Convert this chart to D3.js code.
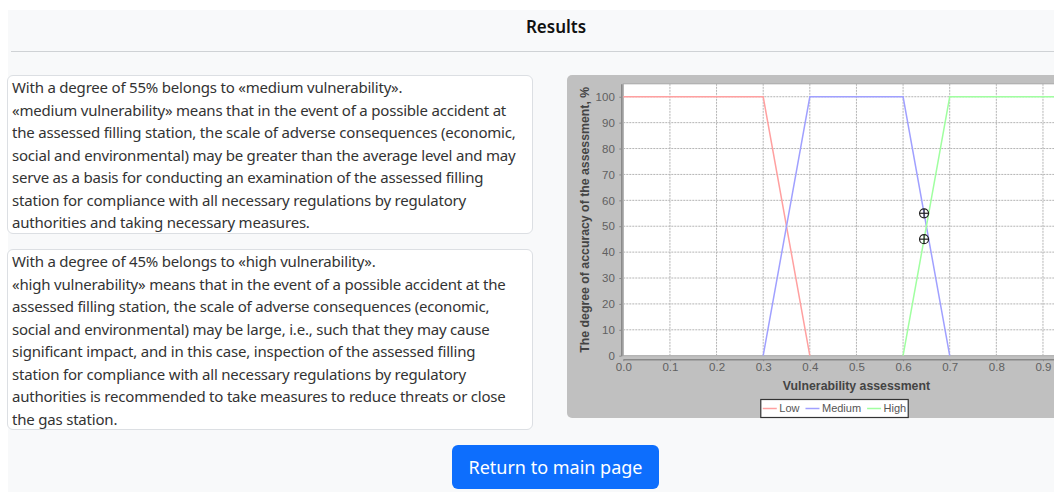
<!DOCTYPE html>
<html>
<head>
<meta charset="utf-8">
<script src="https://cdn.jsdelivr.net/npm/d3@7"></script>
<style>
  html, body { margin: 0; padding: 0; }
  body { width: 1054px; height: 492px; overflow: hidden; background: #fff; position: relative;
         font-family: "Noto Sans", sans-serif; color: #212529; }
  #page { position: absolute; left: 8px; top: 10px; right: 0; bottom: 0; background: #f8f9fa; }
  #title { position: absolute; left: 0; top: 10px; width: 1112px; text-align: center;
           font-size: 17px; font-weight: 600; line-height: 34px; color: #111; }
  #rule { position: absolute; left: 11px; top: 51px; width: 1043px; height: 0; border-top: 1.5px solid #cfd2d5; }
  .box { position: absolute; left: 7px; width: 520px; background: #fff; border: 1px solid #dcdfe3;
         border-radius: 6px; padding: 0 0 0 4px; font-size: 15px; letter-spacing: -0.2px;
         line-height: 22.5px; white-space: nowrap; color: #333; }
  #box1 { top: 75px; height: 157px; }
  #box2 { top: 249px; height: 179px; }
  #btn { position: absolute; left: 452px; top: 445px; width: 207px; height: 44px; background: #0d6efd;
         border-radius: 6px; color: #fff; font-size: 18px; line-height: 44px; text-align: center; }
  #chart { position: absolute; left: 0; top: 0; }
</style>
</head>
<body>
<div id="page"></div>
<div id="title">Results</div>
<div id="rule"></div>
<div class="box" id="box1"></div>
<div class="box" id="box2"></div>
<div id="btn">Return to main page</div>
<svg id="chart" width="1054" height="492"></svg>
<script>
// membership functions (x = vulnerability assessment, y = degree, %)
var lowX = [0, 0.3, 0.4],
    lowY = [100, 100, 0];
var mediumX = [0.3, 0.4, 0.6, 0.7],
    mediumY = [0, 100, 100, 0];
var highX = [0.6, 0.7, 1.0],
    highY = [0, 100, 100];
// assessed point
var pointX = [0.645, 0.645],
    pointY = [55, 45];

var seriesNames = ["Low", "Medium", "High"];
var seriesColors = ["#ffa0a0", "#a0a0ff", "#a0ffa0"];
var xTicks = [0, 0.1, 0.2, 0.3, 0.4, 0.5, 0.6, 0.7, 0.8, 0.9, 1.0];
var yTicks = [0, 10, 20, 30, 40, 50, 60, 70, 80, 90, 100];

var box1Lines = [
  "With a degree of 55% belongs to «medium vulnerability».",
  "«medium vulnerability» means that in the event of a possible accident at",
  "the assessed filling station, the scale of adverse consequences (economic,",
  "social and environmental) may be greater than the average level and may",
  "serve as a basis for conducting an examination of the assessed filling",
  "station for compliance with all necessary regulations by regulatory",
  "authorities and taking necessary measures."
];
var box2Lines = [
  "With a degree of 45% belongs to «high vulnerability».",
  "«high vulnerability» means that in the event of a possible accident at the",
  "assessed filling station, the scale of adverse consequences (economic,",
  "social and environmental) may be large, i.e., such that they may cause",
  "significant impact, and in this case, inspection of the assessed filling",
  "station for compliance with all necessary regulations by regulatory",
  "authorities is recommended to take measures to reduce threats or close",
  "the gas station."
];

d3.select("#box1").selectAll("div").data(box1Lines).enter().append("div").text(function(d) { return d; });
d3.select("#box2").selectAll("div").data(box2Lines).enter().append("div").text(function(d) { return d; });

var svg = d3.select("#chart");

var panel = { x: 567, y: 75, w: 535, h: 343 };
var plot = { left: 623.3, right: 1089.6, top: 83.8, bottom: 355.7 };

var x = d3.scaleLinear().domain([0, 1.0]).range([plot.left, plot.right]);
var y = d3.scaleLinear().domain([0, 105]).range([plot.bottom, plot.top]);

svg.append("rect")
  .attr("x", panel.x).attr("y", panel.y)
  .attr("width", panel.w).attr("height", panel.h)
  .attr("rx", 5)
  .attr("fill", "#c0c0c0");

svg.append("rect")
  .attr("x", plot.left).attr("y", plot.top)
  .attr("width", plot.right - plot.left).attr("height", plot.bottom - plot.top)
  .attr("fill", "#fff")
  .attr("stroke", "#a8a8a8");

// grid
svg.selectAll(".vgrid")
  .data(xTicks.slice(1))
  .enter().append("line")
  .attr("class", "vgrid")
  .attr("x1", function(d) { return x(d); }).attr("x2", function(d) { return x(d); })
  .attr("y1", plot.top).attr("y2", plot.bottom)
  .attr("stroke", "#b4b4b4").attr("stroke-dasharray", "2,1");

svg.selectAll(".hgrid")
  .data(yTicks.slice(1))
  .enter().append("line")
  .attr("class", "hgrid")
  .attr("x1", plot.left).attr("x2", plot.right)
  .attr("y1", function(d) { return y(d); }).attr("y2", function(d) { return y(d); })
  .attr("stroke", "#b4b4b4").attr("stroke-dasharray", "2,1");

// axes
var xAxis = svg.append("g")
  .attr("transform", "translate(0," + (plot.bottom + 3.5) + ")")
  .call(d3.axisBottom(x).tickValues(xTicks).tickFormat(d3.format(".1f")).tickSize(2).tickSizeOuter(0).tickPadding(2));

var yAxis = svg.append("g")
  .attr("transform", "translate(" + (plot.left - 2) + ",0)")
  .call(d3.axisLeft(y).tickValues(yTicks).tickSize(2).tickSizeOuter(0).tickPadding(4.5));

[xAxis, yAxis].forEach(function(a) {
  a.select(".domain").attr("stroke", "#888").attr("stroke-width", 1.5);
  a.selectAll(".tick line").attr("stroke", "#888");
  a.selectAll(".tick text")
    .attr("fill", "#606060")
    .style("font-family", "'Liberation Sans', Arial, sans-serif")
    .style("font-size", "11.5px");
});

svg.append("text")
  .attr("x", (plot.left + plot.right) / 2)
  .attr("y", 389.5)
  .attr("text-anchor", "middle")
  .attr("fill", "#444")
  .style("font-family", "'Liberation Sans', Arial, sans-serif")
  .style("font-size", "12.3px").style("font-weight", "bold")
  .text("Vulnerability assessment");

svg.append("text")
  .attr("transform", "translate(589," + ((plot.top + plot.bottom) / 2) + ")rotate(-90)")
  .attr("text-anchor", "middle")
  .attr("fill", "#444")
  .style("font-family", "'Liberation Sans', Arial, sans-serif")
  .style("font-size", "12.3px").style("font-weight", "bold")
  .text("The degree of accuracy of the assessment, %");

// series
var line = d3.line()
  .x(function(d) { return x(d[0]); })
  .y(function(d) { return y(d[1]); });

var series = [d3.zip(lowX, lowY), d3.zip(mediumX, mediumY), d3.zip(highX, highY)];

svg.selectAll(".series")
  .data(series)
  .enter().append("path")
  .attr("class", "series")
  .attr("d", line)
  .attr("fill", "none")
  .attr("stroke", function(d, i) { return seriesColors[i]; })
  .attr("stroke-width", 1.5);

// markers
var markers = svg.selectAll(".marker")
  .data(d3.zip(pointX, pointY))
  .enter().append("g")
  .attr("class", "marker")
  .attr("transform", function(d) { return "translate(" + x(d[0]) + "," + y(d[1]) + ")"; });
markers.append("circle").attr("r", 4.5).attr("fill", "none").attr("stroke", "#222").attr("stroke-width", 1.2);
markers.append("line").attr("x1", -4.5).attr("x2", 4.5).attr("stroke", "#222").attr("stroke-width", 1.2);
markers.append("line").attr("y1", -4.5).attr("y2", 4.5).attr("stroke", "#222").attr("stroke-width", 1.2);

// legend
var legend = svg.append("g");
var legendBox = legend.append("rect")
  .attr("fill", "#fff").attr("stroke", "#333").attr("stroke-width", 1.2);
var cx = 0;
var items = legend.selectAll(".item")
  .data(seriesNames)
  .enter().append("g")
  .attr("class", "item");
items.each(function(name, i) {
  var g = d3.select(this);
  g.append("line")
    .attr("x1", 0).attr("x2", 14).attr("y1", 0).attr("y2", 0)
    .attr("stroke", seriesColors[i]).attr("stroke-width", 1.5);
  var t = g.append("text")
    .attr("x", 16.5).attr("dy", "0.35em")
    .attr("fill", "#555")
    .style("font-family", "'Liberation Sans', Arial, sans-serif")
    .style("font-size", "11px")
    .text(name);
  g.attr("transform", "translate(" + cx + ",0)");
  cx += 16.5 + t.node().getComputedTextLength() + 6;
});
var legendW = cx - 6 + 4;
var legendX = panel.x + panel.w / 2 - legendW / 2;
legendBox.attr("x", -2).attr("y", -9).attr("width", legendW).attr("height", 18);
legend.attr("transform", "translate(" + (legendX + 2) + ",408.5)");
</script>
</body>
</html>
